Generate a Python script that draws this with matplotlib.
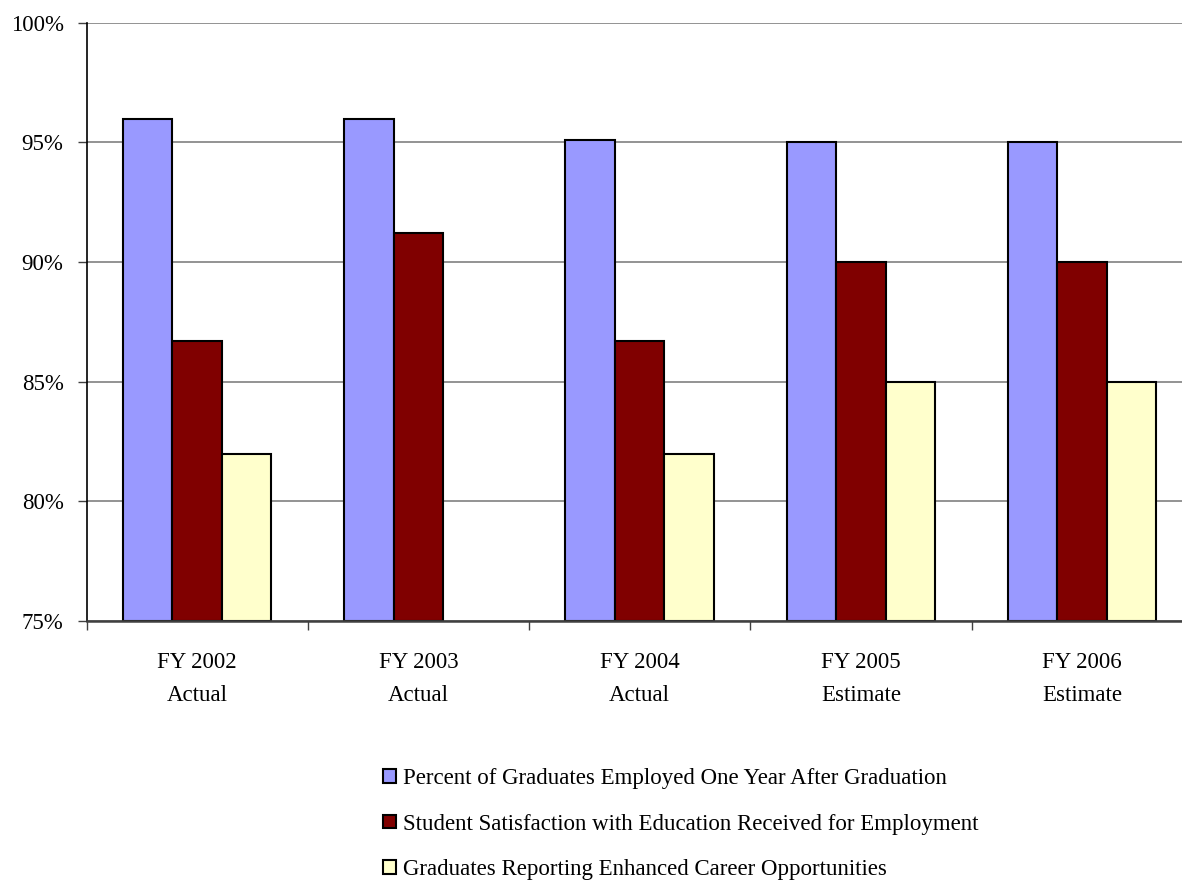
import numpy as np
import matplotlib
matplotlib.use('Agg')
import matplotlib.pyplot as plt
from matplotlib.ticker import FuncFormatter

plt.rcParams['font.family'] = ['Liberation Serif', 'DejaVu Serif']

# data
years = ['FY 2002\nActual', 'FY 2003\nActual', 'FY 2004\nActual',
         'FY 2005\nEstimate', 'FY 2006\nEstimate']
employed = [96.0, 96.0, 95.1, 95.0, 95.0]
satisfaction = [86.7, 91.2, 86.7, 90.0, 90.0]
career = [82.0, np.nan, 82.0, 85.0, 85.0]

labels = ['Percent of Graduates Employed One Year After Graduation',
          'Student Satisfaction with Education Received for Employment',
          'Graduates Reporting Enhanced Career Opportunities']
colors = ['#9999FF', '#800000', '#FFFFCC']

fig = plt.figure(figsize=(11.82, 8.90), dpi=100)
ax = fig.add_axes([0.0732, 0.3022, 0.9359, 0.6722])

x = np.arange(len(years)) + 0.5
w = 0.224
for i, (vals, col, lab) in enumerate(zip([employed, satisfaction, career], colors, labels)):
    ax.bar(x + (i - 1) * w, np.array(vals) - 75, width=w, bottom=75,
           color=col, edgecolor='black', linewidth=1.5, label=lab, zorder=3)

ax.set_xlim(0, len(years))
ax.set_ylim(75, 100)
ax.set_yticks([75, 80, 85, 90, 95, 100])
ax.yaxis.set_major_formatter(FuncFormatter(lambda v, p: '%d%%' % v))
ax.grid(axis='y', color='#808080', linewidth=1.2, zorder=0)

# category boundaries get the tick marks, centres get the labels
ax.set_xticks(np.arange(len(years) + 1))
ax.set_xticklabels([])
ax.set_xticks(x, minor=True)
ax.set_xticklabels(years, minor=True, linespacing=1.75)
ax.tick_params(axis='x', which='minor', length=0, pad=22, labelsize=16.5)
ax.tick_params(axis='x', which='major', direction='out', length=6.5,
               width=1, color='#404040')
ax.tick_params(axis='y', direction='out', length=6.5, width=1,
               color='#404040', pad=10, labelsize=16.5)

for s in ['top', 'right']:
    ax.spines[s].set_visible(False)
ax.spines['left'].set_color('black')
ax.spines['left'].set_linewidth(1.2)
ax.spines['bottom'].set_color('#404040')
ax.spines['bottom'].set_linewidth(1.8)
ax.spines['bottom'].set_zorder(4)

fig.legend(loc='upper left', bbox_to_anchor=(0.3165, 0.147), frameon=False,
           fontsize=16.5, handlelength=0.55, handleheight=0.55,
           handletextpad=0.3, labelspacing=1.06, borderaxespad=0)

fig.savefig('out.png', dpi=100)
